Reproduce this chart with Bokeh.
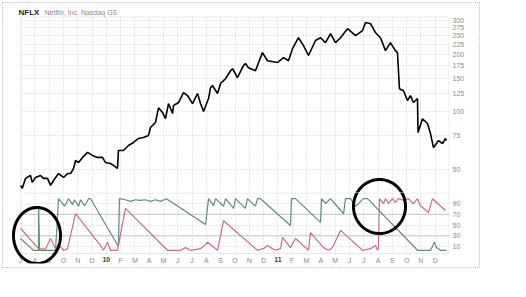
import numpy as np
from bokeh.plotting import figure
from bokeh.layouts import column
from bokeh.models import (Range1d, FixedTicker, Label, PolyAnnotation, Span, BoxAnnotation,
                          PrintfTickFormatter)
from bokeh.embed import file_html
from bokeh.resources import INLINE

# ---------------- data ----------------
month_labels = ["J", "A", "S", "O", "N", "D", "10", "F", "M", "A", "M", "J", "J", "A", "S",
                "O", "N", "D", "11", "F", "M", "A", "M", "J", "J", "A", "S", "O", "N", "D"]
year_ticks = [6, 18]
price_ticks = [50, 75, 100, 125, 150, 175, 200, 225, 250, 275, 300]
aroon_ticks = [10, 30, 50, 70, 90]

# time in months since 1 Jul 2009
price_t = [0.00, 0.12, 0.35, 0.70, 0.82, 1.05, 1.40, 1.61, 1.89, 2.10, 2.31, 2.66, 3.01, 3.29,
           3.50, 3.71, 3.85, 4.06, 4.34, 4.69, 5.03, 5.38, 5.73, 5.94, 6.29, 6.50, 6.78, 6.85,
           7.20, 7.55, 7.90, 8.25, 8.60, 8.95, 9.09, 9.44, 9.65, 9.93, 10.14, 10.35, 10.63, 10.70,
           11.05, 11.40, 11.68, 12.03, 12.38, 12.59, 12.80, 13.15, 13.29, 13.43, 13.78, 13.99,
           14.20, 14.34, 14.69, 14.83, 15.17, 15.59, 15.73, 15.94, 16.43, 16.92, 17.27, 17.97,
           18.39, 18.74, 19.02, 19.44, 19.79, 20.14, 20.63, 20.98, 21.33, 21.68, 22.03, 22.38,
           22.87, 23.43, 23.92, 24.13, 24.48, 24.83, 25.17, 25.31, 25.52, 25.87, 26.22, 26.36,
           26.50, 26.78, 27.06, 27.27, 27.48, 27.76, 27.80, 28.11, 28.46, 28.67, 28.88, 29.23,
           29.51, 29.72, 29.79]
price = [41.3, 39.8, 44.9, 46.5, 42.8, 45.4, 46.5, 44.9, 44.9, 41.3, 43.8, 47.6, 45.4, 47.6,
         47.6, 50.6, 55.7, 54.4, 57.8, 61.4, 59.2, 57.8, 57.8, 54.4, 53.7, 52.5, 50.6, 62.8,
         62.8, 66.7, 69.2, 72.6, 73.5, 75.2, 82.8, 88.0, 105.0, 99.2, 92.3, 110.5, 98.0, 107.9,
         111.9, 126.0, 121.7, 110.5, 124.7, 110.5, 100.5, 117.4, 134.0, 137.0, 124.7, 140.6,
         145.7, 149.0, 164.0, 168.0, 151.0, 174.5, 179.0, 170.0, 164.0, 204.0, 185.0, 181.0,
         192.0, 185.0, 214.0, 244.0, 222.0, 197.0, 236.0, 244.0, 230.0, 256.0, 230.0, 244.0,
         272.0, 250.0, 266.0, 293.0, 289.0, 259.0, 244.0, 230.0, 209.0, 230.0, 209.0, 204.0,
         132.0, 129.0, 114.6, 121.7, 111.9, 117.4, 78.0, 92.0, 86.9, 77.0, 65.0, 70.8,
         68.3, 72.6, 70.8]

up_t = [0.00, 0.91, 1.26, 1.27, 1.33, 2.45, 2.66, 3.08, 3.36, 3.64, 3.78, 4.06, 4.20, 4.48,
        4.76, 4.90, 6.85, 6.92, 7.34, 7.69, 8.04, 8.39, 8.74, 9.09, 9.44, 9.79, 10.21, 12.94,
        13.15, 13.50, 13.64, 14.20, 14.34, 14.90, 15.03, 15.73, 15.87, 16.43, 16.57, 16.78,
        18.88, 18.95, 19.23, 20.98, 21.05, 21.33, 21.68, 22.59, 22.73, 23.08, 23.43, 23.99,
        24.27, 27.76, 28.67, 28.95, 29.09, 29.37, 29.79]
up = [25, 3, 3, 83, 3, 3, 99, 85, 99, 88, 97, 85, 97, 86,
      99, 99, 10, 99, 97, 94, 97, 96, 97, 94, 97, 94, 99, 51,
      99, 86, 99, 85, 99, 81, 99, 81, 99, 85, 99, 99,
      49, 99, 99, 55, 99, 90, 99, 71, 99, 99, 85, 99,
      99, 3, 3, 18, 8, 3, 3]

down_t = [0.00, 1.26, 1.75, 2.10, 2.45, 2.66, 3.01, 3.29, 3.85, 5.59, 5.80, 6.08, 6.29, 6.78,
          7.34, 10.28, 11.19, 11.54, 11.89, 12.59, 12.94, 13.08, 13.78, 14.20, 16.57, 16.99,
          17.27, 17.48, 17.83, 18.18, 18.32, 18.88, 19.23, 20.14, 20.28, 21.19, 21.54, 21.82,
          22.38, 23.92, 24.48, 24.83, 24.97, 25.03, 25.10, 25.38, 25.52, 25.73, 26.01, 26.22,
          26.43, 26.78, 27.13, 27.48, 27.76, 27.97, 28.53, 28.81, 29.72]
down = [44, 6, 5, 25, 6, 14, 3, 6, 71, 12, 3, 18, 3, 3,
        81, 3, 3, 8, 3, 6, 14, 18, 3, 58, 3, 6,
        12, 8, 3, 6, 27, 8, 25, 3, 36, 8, 3, 8,
        40, 3, 6, 12, 3, 8, 99, 90, 99, 90, 99, 92,
        99, 96, 99, 90, 99, 86, 73, 99, 77]

# ---------------- styles ----------------
FONT = "Liberation Sans"
GRID = "#cfcfcf"
FRAME = "#b4b4b4"
LABEL = "#8a8a8a"
GREEN = "#5e8f6e"
RED = "#c56f86"

# ---------------- page geometry (pixels) ----------------
X_M0, PX_PER_M = 20.0, 14.3          # page x of 1 Jul 2009, pixels per month
FRAME_L, FRAME_R = 3, 449             # plotting frames (incl. margin strip on the left)
P1_TOP, P1_BOX_TOP, P1_BOT = 3, 16, 192
P2_TOP, P2_BOX_BOT, P2_BOT = 192, 253, 263
A_ZERO, A_PX = 251.4, 0.5375          # page y of Aroon 0, pixels per Aroon unit
PRICE_HI, PRICE_LO = 315.0, 37.9      # price at P1_BOX_TOP / P1_BOT

def mx(px):
    return (np.asarray(px, dtype=float) - X_M0) / PX_PER_M

def av(py):
    return (A_ZERO - np.asarray(py, dtype=float)) / A_PX

def pv(py):
    frac = (np.asarray(py, dtype=float) - P1_BOX_TOP) / (P1_BOT - P1_BOX_TOP)
    return PRICE_HI * (PRICE_LO / PRICE_HI) ** frac

def ellipse_px(cx, cy, rx, ry, n=140):
    a = np.linspace(0, 2 * np.pi, n)
    return cx + rx * np.cos(a), cy + ry * np.sin(a)

xr = Range1d(float(mx(FRAME_L)), 30.0)

def cover(fig, **kw):
    fig.add_layout(BoxAnnotation(fill_color="white", fill_alpha=1, line_color=None,
                                 level="underlay", **kw))

def style_grid(fig):
    for g in (fig.xgrid, fig.ygrid):
        g.grid_line_color = GRID
        g.grid_line_dash = "1 2"

def style_axis(ax):
    ax.axis_line_color = None
    ax.major_tick_line_color = None
    ax.minor_tick_line_color = None
    ax.major_tick_out = 0
    ax.major_tick_in = 0
    ax.major_label_standoff = 3
    ax.major_label_text_font = FONT
    ax.major_label_text_font_size = "7px"
    ax.major_label_text_color = LABEL

# ---------------- price panel ----------------
p1 = figure(width=476, height=P1_BOT - P1_TOP, x_range=xr,
            y_range=Range1d(PRICE_LO, float(pv(P1_TOP))),
            y_axis_type="log", y_axis_location="right", x_axis_location=None,
            output_backend="svg", toolbar_location=None,
            min_border_left=0, min_border_right=479 - FRAME_R, min_border_top=0, min_border_bottom=0)
p1.outline_line_color = None
p1.border_fill_color = "white"
p1.yaxis.ticker = FixedTicker(ticks=price_ticks)
p1.yaxis.formatter = PrintfTickFormatter(format="%d")
p1.xgrid.ticker = FixedTicker(ticks=list(range(31)))
style_grid(p1)
style_axis(p1.yaxis[0])
cover(p1, bottom=PRICE_HI)
cover(p1, right=0)
p1.add_layout(BoxAnnotation(left=float(mx(20.5)), right=float(mx(FRAME_R - 0.5)),
                            top=float(pv(P1_BOX_TOP + 0.5)), bottom=float(pv(P2_TOP + 1)),
                            fill_alpha=0, line_color=FRAME, line_width=1))

p1.line(price_t, price, line_color="black", line_width=1.6)

p1.add_layout(Label(x=float(mx(18)), y=float(pv(11.5)), text="NFLX",
                    text_font=FONT, text_font_size="8px", text_font_style="bold",
                    text_color="#222222", text_baseline="alphabetic"))
p1.add_layout(Label(x=float(mx(44)), y=float(pv(11.5)), text="Netflix, Inc. Nasdaq GS",
                    text_font=FONT, text_font_size="7px", text_color="#8a8a8a",
                    text_baseline="alphabetic"))

# ---------------- aroon panel ----------------
p2 = figure(width=476, height=75, x_range=xr, y_range=Range1d(float(av(P2_BOT)), float(av(P2_TOP))),
            y_axis_location="right", output_backend="svg", toolbar_location=None,
            min_border_left=0, min_border_right=479 - FRAME_R, min_border_top=0,
            min_border_bottom=75 - (P2_BOT - P2_TOP))
p2.outline_line_color = None
p2.border_fill_color = "white"
p2.yaxis.ticker = FixedTicker(ticks=aroon_ticks)
p2.xaxis.ticker = FixedTicker(ticks=list(range(30)))
p2.xaxis.major_label_overrides = {i: ("" if i in year_ticks else s) for i, s in enumerate(month_labels)}
p2.xgrid.ticker = FixedTicker(ticks=list(range(31)))
style_grid(p2)
style_axis(p2.yaxis[0])
style_axis(p2.xaxis[0])
p2.xaxis[0].fixed_location = float(av(262))
p2.xaxis[0].major_label_standoff = -6
for lvl in (70, 30):
    p2.add_layout(Span(location=lvl, dimension="width", line_color="#c8c8c8", line_width=1,
                       level="underlay"))
cover(p2, top=float(av(P2_BOX_BOT)))
cover(p2, right=0)
p2.add_layout(BoxAnnotation(left=float(mx(20.5)), right=float(mx(FRAME_R - 0.5)),
                            top=float(av(P2_TOP + 0.5)), bottom=float(av(P2_BOX_BOT)),
                            fill_alpha=0, line_color=FRAME, line_width=1))

p2.line(up_t, up, line_color=GREEN, line_width=1.2)
p2.line(down_t, down, line_color=RED, line_width=1.2)

for i in year_ticks:
    p2.add_layout(Label(x=i, y=float(av(256)), text=month_labels[i],
                        text_font=FONT, text_font_size="7px", text_font_style="bold",
                        text_color="#444444", text_align="center", text_baseline="top"))

# hand-drawn circles (page pixels: centre x, centre y, radius x, radius y)
circles = [(36.5, 235.0, 23.5, 28.0), (379.0, 206.0, 26.0, 27.0)]
for cx, cy, rx, ry in circles:
    ex, ey = ellipse_px(cx, cy, rx, ry)
    p2.add_layout(PolyAnnotation(xs=list(mx(ex)), ys=list(av(ey)), fill_color=None, fill_alpha=0,
                                 line_color="black", line_alpha=1, line_width=3))
    p1.add_layout(PolyAnnotation(xs=list(mx(ex)), ys=list(pv(ey)), fill_color=None,
                                 fill_alpha=0, line_color="black", line_alpha=1, line_width=3))

layout = column(p1, p2, spacing=0,
                styles={"border": "1px dotted #c4c4c4", "margin-left": "2px", "margin-top": "2px"})

open("out.html", "w").write(file_html(layout, INLINE))
